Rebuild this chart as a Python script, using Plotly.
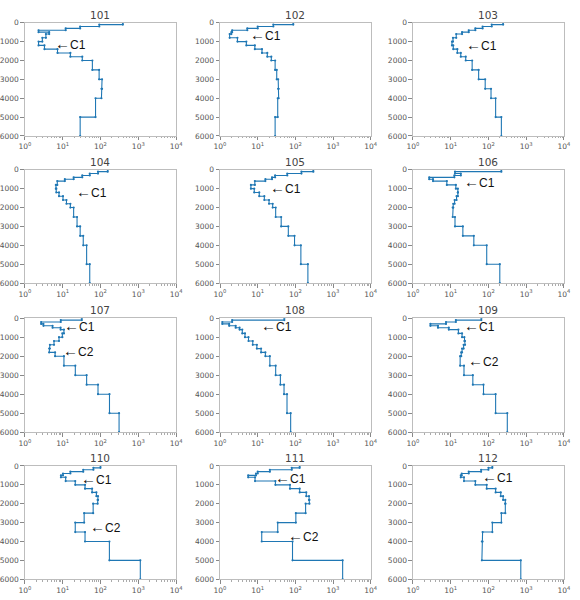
import math
import plotly.graph_objects as go

# Layer tops (m); last layer ends at 6000 m
depth_tops = [0, 100, 200, 300, 400, 500, 600, 800, 1000, 1200, 1400, 1600, 1800,
              2000, 2500, 3000, 3500, 4000, 5000]
depth_bottom = 6000

titles = ["101", "102", "103", "104", "105", "106",
          "107", "108", "109", "110", "111", "112"]

v101 = [390, 93, 29, 12, 2.3, 4.4, 3.6, 2.9, 2.3, 3.3, 7.3, 16, 33, 61, 92, 110, 106, 74, 29]
v102 = [88, 26, 10, 5.3, 2.1, 2.0, 1.8, 2.9, 5.0, 8.4, 13, 18, 23, 29, 32, 35, 36, 34, 29]
v103 = [245, 122, 70, 45, 30, 20, 14, 11.5, 10.8, 11.7, 15, 18.5, 25, 37, 55, 82, 117, 155, 220]
v104 = [155, 86, 52, 33, 19.5, 11.4, 7.2, 6.6, 6.8, 8, 10.2, 12.6, 16, 19.5, 24, 29, 35, 43, 52]
v105 = [300, 145, 61, 29, 24, 16, 8.4, 6.6, 8.1, 11, 15, 20, 25, 30, 42, 65, 95, 140, 215]
v106 = [220, 13, 18.5, 12.5, 2.7, 3.4, 7.9, 13.7, 15.5, 15.5, 14.3, 12.7, 11.7, 11.3, 13, 21, 41, 90, 200]
v107 = [32, 8.9, 2.7, 3.1, 5.4, 8.8, 10.8, 9.8, 8, 5.9, 4.6, 4.4, 6.3, 10.8, 21.6, 43, 86, 173, 310]
v108 = [51, 2.1, 1.15, 1.75, 2.6, 3.3, 3.9, 4.6, 5.7, 7.4, 9.5, 12.3, 16, 21, 30, 40, 50, 60, 75]
v109 = [65, 13.7, 7.5, 2.9, 4.6, 8.9, 16, 20, 23, 24, 22, 20, 19, 17.8, 22.5, 38.6, 74, 155, 316]
v110 = [100, 65, 35, 16, 10.2, 9, 12, 21.5, 39, 60, 78, 86, 84, 64, 37, 21.5, 39, 172, 1130]
v111 = [130, 80, 21, 10, 9, 5.6, 8.5, 29.5, 72, 130, 195, 230, 236, 187, 103, 34, 12.8, 84, 1800]
v112 = [127, 100, 64, 30, 19.6, 18.5, 22.5, 45, 90, 155, 212, 245, 280, 280, 220, 127, 70, 67, 720]

series = [v101, v102, v103, v104, v105, v106, v107, v108, v109, v110, v111, v112]

# annotations: (panel index, label, value, depth)
notes = [
    (0, "C1", 5.4, 1100), (1, "C1", 5.4, 600), (2, "C1", 22.6, 1180),
    (3, "C1", 19.5, 1130), (4, "C1", 18.6, 920), (5, "C1", 19.7, 610),
    (6, "C1", 9.8, 400), (6, "C2", 8.9, 1700),
    (7, "C1", 10.6, 400),
    (8, "C1", 19.7, 400), (8, "C2", 26, 2230),
    (9, "C1", 27, 660), (9, "C2", 48, 3180),
    (10, "C1", 25.7, 610), (10, "C2", 56, 3700),
    (11, "C1", 61, 575),
]

xticks = [1, 10, 100, 1000, 10000]
xticktext = ["10<sup>0</sup>", "10<sup>1</sup>", "10<sup>2</sup>", "10<sup>3</sup>", "10<sup>4</sup>"]
yticks = [0, 1000, 2000, 3000, 4000, 5000, 6000]

W, H = 580, 600
col_px = [(18.3, 173.3), (218.3, 372.7), (416.0, 570.7)]
row_px = [(19.0, 134.0), (168.3, 283.3), (319.0, 434.7), (469.0, 584.0)]

minor_vals = [m * 10 ** e for e in range(0, 4) for m in range(2, 10)]

fig = go.Figure()
axis_font = dict(family="DejaVu Sans", size=7.5, color="#555555")
spine = "#bdbdbd"

for i, vals in enumerate(series):
    r, c = divmod(i, 3)
    xs, ys = [], []
    bots = depth_tops[1:] + [depth_bottom]
    for v, t, b in zip(vals, depth_tops, bots):
        xs += [v, v]
        ys += [t, b]
    n = i + 1
    xa = "x" if n == 1 else f"x{n}"
    ya = "y" if n == 1 else f"y{n}"
    fig.add_trace(go.Scatter(x=xs, y=ys, mode="lines+markers", xaxis=xa, yaxis=ya,
                             line=dict(color="#1f77b4", width=1.1),
                             marker=dict(size=2.2, color="#1f77b4"),
                             showlegend=False, hoverinfo="skip"))
    x0, x1 = col_px[c]
    t0, t1 = row_px[r]
    xdom = [x0 / W, x1 / W]
    ydom = [1 - t1 / H, 1 - t0 / H]
    fig.layout[("xaxis" if n == 1 else f"xaxis{n}")] = dict(
        type="log", range=[0, 4], domain=xdom, anchor=ya,
        tickvals=xticks, ticktext=xticktext, ticks="outside", ticklen=3.5,
        tickcolor="#888888", tickfont=axis_font, showgrid=False, zeroline=False,
        showline=True, mirror=True, linecolor=spine, linewidth=1,
        minor=dict(tickvals=minor_vals, ticks="outside", ticklen=1.5, tickcolor="#aaaaaa"),
    )
    fig.layout[("yaxis" if n == 1 else f"yaxis{n}")] = dict(
        range=[6000, 0], domain=ydom, anchor=xa,
        tickvals=yticks, ticks="outside", ticklen=3.5, tickcolor="#888888",
        tickfont=axis_font, showgrid=False, zeroline=False,
        showline=True, mirror=True, linecolor=spine, linewidth=1,
    )
    fig.add_annotation(text=titles[i], x=(xdom[0] + xdom[1]) / 2, y=ydom[1],
                       xref="paper", yref="paper", xanchor="center", yanchor="bottom",
                       showarrow=False, yshift=0,
                       font=dict(family="DejaVu Sans", size=10.5, color="#444444"))

for idx, lab, xv, dv in notes:
    n = idx + 1
    xa = "x" if n == 1 else f"x{n}"
    ya = "y" if n == 1 else f"y{n}"
    fig.add_annotation(text="<span style='font-size:15px'>←</span>" + lab,
                       x=math.log10(xv), y=dv,
                       xref=xa, yref=ya, xanchor="left", yanchor="middle",
                       showarrow=False,
                       font=dict(family="Liberation Sans, DejaVu Sans", size=12, color="#111111"))

fig.update_layout(width=W, height=H, margin=dict(l=0, r=0, t=0, b=0),
                  paper_bgcolor="white", plot_bgcolor="white")

fig.write_html("out.html")
